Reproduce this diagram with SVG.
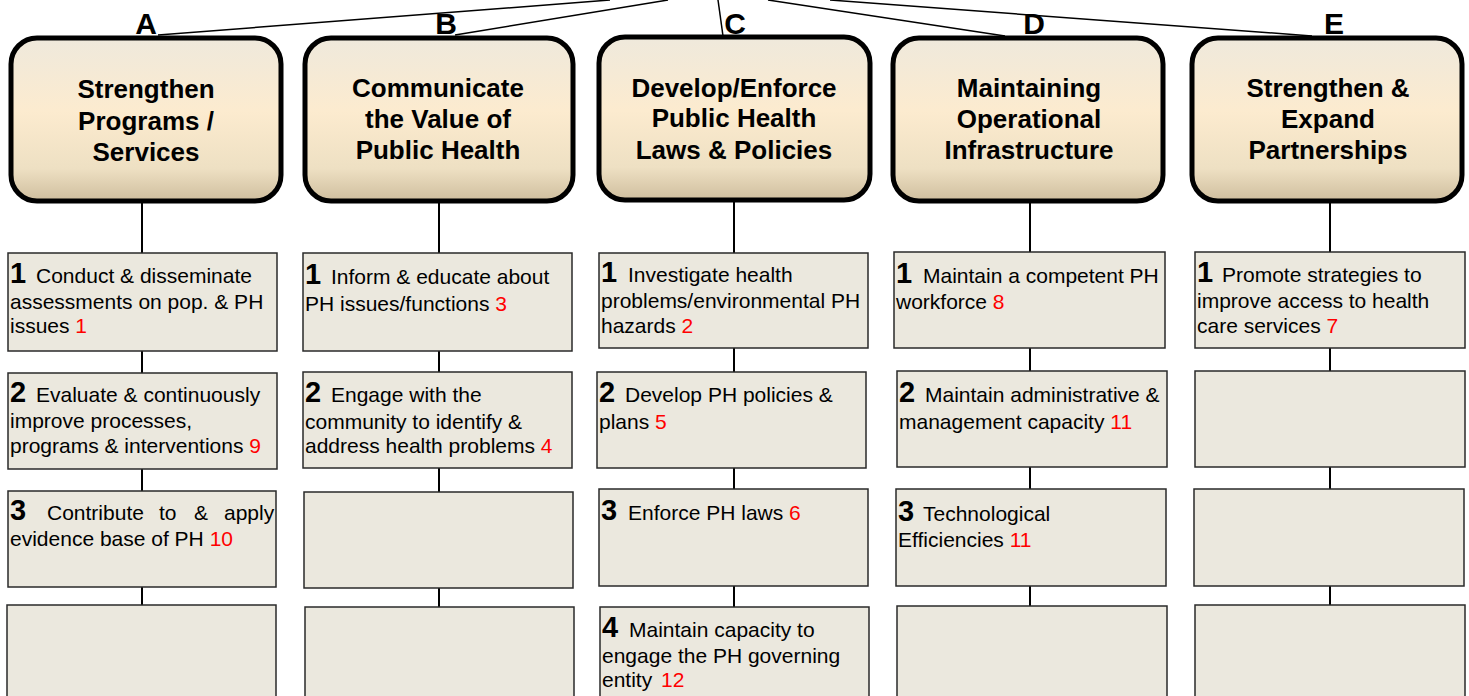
<svg xmlns="http://www.w3.org/2000/svg" width="1469" height="696" viewBox="0 0 1469 696">
<defs>
<linearGradient id="hg" x1="0" y1="0" x2="0" y2="1">
<stop offset="0" stop-color="#efe9dc"/>
<stop offset="0.45" stop-color="#fcebcf"/>
<stop offset="0.8" stop-color="#eee0c3"/>
<stop offset="1" stop-color="#cfbe9e"/>
</linearGradient>
<style>
.hdr{fill:url(#hg);stroke:#000;stroke-width:5}
.htx{font-family:"Liberation Sans",Arial,sans-serif;font-weight:bold;font-size:26px;text-anchor:middle;fill:#000}
.lt{font-family:"Liberation Sans",Arial,sans-serif;font-weight:bold;font-size:30px;text-anchor:middle;fill:#000}
.box{fill:#ebe8de;stroke:#2a2a2a;stroke-width:1.5}
.t{font-family:"Liberation Sans",Arial,sans-serif;font-size:21px;fill:#000}
.n{font-weight:bold;font-size:29px}
.r{fill:#ff0000}
.c{stroke:#000;stroke-width:2;fill:none}
.ct{stroke:#000;stroke-width:1.5;fill:none}
</style>
</defs>
<rect width="1469" height="696" fill="#ffffff"/>

<g id="connectors">
<line class="ct" x1="610" y1="0" x2="158" y2="35"/>
<line class="ct" x1="668" y1="0" x2="455" y2="35"/>
<line class="ct" x1="718" y1="0" x2="723" y2="36"/>
<line class="ct" x1="768" y1="0" x2="1005" y2="36"/>
<line class="ct" x1="830" y1="0" x2="1312" y2="36"/>
<path class="c" d="M142 202V253M142 351V373M142 469V491M142 587V605"/>
<path class="c" d="M439 201V253M439 351V372M439 468V492M439 588V607"/>
<path class="c" d="M734 200V253M734 348V372M734 468V489M734 586V607"/>
<path class="c" d="M1030 201V252M1030 348V371M1030 467V489M1030 586V606"/>
<path class="c" d="M1330 202V252M1330 348V371M1330 467V489M1330 586V605"/>
</g>

<g id="header-A">
<text class="lt" x="146" y="34">A</text>
<rect class="hdr" x="11" y="38" width="270" height="163" rx="26"/>
<text class="htx" x="146" y="98">Strengthen</text>
<text class="htx" x="146" y="130">Programs /</text>
<text class="htx" x="146" y="161">Services</text>
</g>
<g id="header-B">
<text class="lt" x="446" y="34">B</text>
<rect class="hdr" x="305" y="38" width="268" height="163" rx="26"/>
<text class="htx" x="438" y="97">Communicate</text>
<text class="htx" x="438" y="128">the Value of</text>
<text class="htx" x="438" y="159">Public Health</text>
</g>
<g id="header-C">
<text class="lt" x="735" y="34">C</text>
<rect class="hdr" x="599" y="37" width="271" height="163" rx="26"/>
<text class="htx" x="734" y="97">Develop/Enforce</text>
<text class="htx" x="734" y="127">Public Health</text>
<text class="htx" x="734" y="159">Laws &amp; Policies</text>
</g>
<g id="header-D">
<text class="lt" x="1034" y="34">D</text>
<rect class="hdr" x="893" y="38" width="270" height="163" rx="26"/>
<text class="htx" x="1029" y="97">Maintaining</text>
<text class="htx" x="1029" y="128">Operational</text>
<text class="htx" x="1029" y="159">Infrastructure</text>
</g>
<g id="header-E">
<text class="lt" x="1334" y="34">E</text>
<rect class="hdr" x="1192" y="38" width="270" height="163" rx="26"/>
<text class="htx" x="1328" y="97">Strengthen &amp;</text>
<text class="htx" x="1328" y="128">Expand</text>
<text class="htx" x="1328" y="159">Partnerships</text>
</g>

<g id="A1">
<rect class="box" x="8" y="253" width="269" height="98"/>
<text class="t" y="283"><tspan class="n" x="10">1</tspan><tspan x="36">Conduct &amp; disseminate</tspan></text>
<text class="t" x="10" y="309">assessments on pop. &amp; PH</text>
<text class="t" x="10" y="333">issues <tspan class="r">1</tspan></text>
</g>
<g id="A2">
<rect class="box" x="8" y="373" width="269" height="96"/>
<text class="t" y="402"><tspan class="n" x="10">2</tspan><tspan x="36">Evaluate &amp; continuously</tspan></text>
<text class="t" x="10" y="428">improve processes,</text>
<text class="t" x="10" y="453">programs &amp; interventions <tspan class="r">9</tspan></text>
</g>
<g id="A3">
<rect class="box" x="8" y="491" width="268" height="96"/>
<text class="t" y="520"><tspan class="n" x="10">3</tspan><tspan x="47">Contribute</tspan><tspan x="159">to</tspan><tspan x="194">&amp;</tspan><tspan x="224">apply</tspan></text>
<text class="t" x="10" y="546">evidence base of PH <tspan class="r">10</tspan></text>
</g>
<g id="A4">
<rect class="box" x="7" y="605" width="269" height="100"/>
</g>

<g id="B1">
<rect class="box" x="303" y="253" width="269" height="98"/>
<text class="t" y="284"><tspan class="n" x="305">1</tspan><tspan x="331">Inform &amp; educate about</tspan></text>
<text class="t" x="305" y="311">PH issues/functions <tspan class="r">3</tspan></text>
</g>
<g id="B2">
<rect class="box" x="303" y="372" width="269" height="96"/>
<text class="t" y="402"><tspan class="n" x="305">2</tspan><tspan x="331">Engage with the</tspan></text>
<text class="t" x="305" y="429">community to identify &amp;</text>
<text class="t" x="305" y="453">address health problems <tspan class="r">4</tspan></text>
</g>
<g id="B3">
<rect class="box" x="304" y="492" width="269" height="96"/>
</g>
<g id="B4">
<rect class="box" x="305" y="607" width="269" height="98"/>
</g>

<g id="C1">
<rect class="box" x="599" y="253" width="269" height="95"/>
<text class="t" y="282"><tspan class="n" x="601">1</tspan><tspan x="628">Investigate health</tspan></text>
<text class="t" x="601" y="308">problems/environmental PH</text>
<text class="t" x="601" y="333">hazards <tspan class="r">2</tspan></text>
</g>
<g id="C2">
<rect class="box" x="597" y="372" width="269" height="96"/>
<text class="t" y="402"><tspan class="n" x="599">2</tspan><tspan x="625">Develop PH policies &amp;</tspan></text>
<text class="t" x="599" y="429">plans <tspan class="r">5</tspan></text>
</g>
<g id="C3">
<rect class="box" x="599" y="489" width="269" height="97"/>
<text class="t" y="520"><tspan class="n" x="601">3</tspan><tspan x="628">Enforce PH laws </tspan><tspan class="r">6</tspan></text>
</g>
<g id="C4">
<rect class="box" x="600" y="607" width="269" height="98"/>
<text class="t" y="637"><tspan class="n" x="602">4</tspan><tspan x="629">Maintain capacity to</tspan></text>
<text class="t" x="602" y="663">engage the PH governing</text>
<text class="t" x="602" y="687">entity <tspan class="r" dx="3">12</tspan></text>
</g>

<g id="D1">
<rect class="box" x="894" y="252" width="271" height="96"/>
<text class="t" y="283"><tspan class="n" x="896">1</tspan><tspan x="923">Maintain a competent PH</tspan></text>
<text class="t" x="896" y="309">workforce <tspan class="r">8</tspan></text>
</g>
<g id="D2">
<rect class="box" x="897" y="371" width="270" height="96"/>
<text class="t" y="402"><tspan class="n" x="899">2</tspan><tspan x="925">Maintain administrative &amp;</tspan></text>
<text class="t" x="899" y="429">management capacity <tspan class="r">11</tspan></text>
</g>
<g id="D3">
<rect class="box" x="896" y="489" width="270" height="97"/>
<text class="t" y="521"><tspan class="n" x="898">3</tspan><tspan x="923">Technological</tspan></text>
<text class="t" x="898" y="547">Efficiencies <tspan class="r">11</tspan></text>
</g>
<g id="D4">
<rect class="box" x="897" y="606" width="270" height="99"/>
</g>

<g id="E1">
<rect class="box" x="1195" y="252" width="270" height="96"/>
<text class="t" y="282"><tspan class="n" x="1197">1</tspan><tspan x="1222">Promote strategies to</tspan></text>
<text class="t" x="1197" y="308">improve access to health</text>
<text class="t" x="1197" y="333">care services <tspan class="r">7</tspan></text>
</g>
<g id="E2">
<rect class="box" x="1195" y="371" width="270" height="96"/>
</g>
<g id="E3">
<rect class="box" x="1194" y="489" width="270" height="97"/>
</g>
<g id="E4">
<rect class="box" x="1195" y="605" width="270" height="100"/>
</g>
</svg>
